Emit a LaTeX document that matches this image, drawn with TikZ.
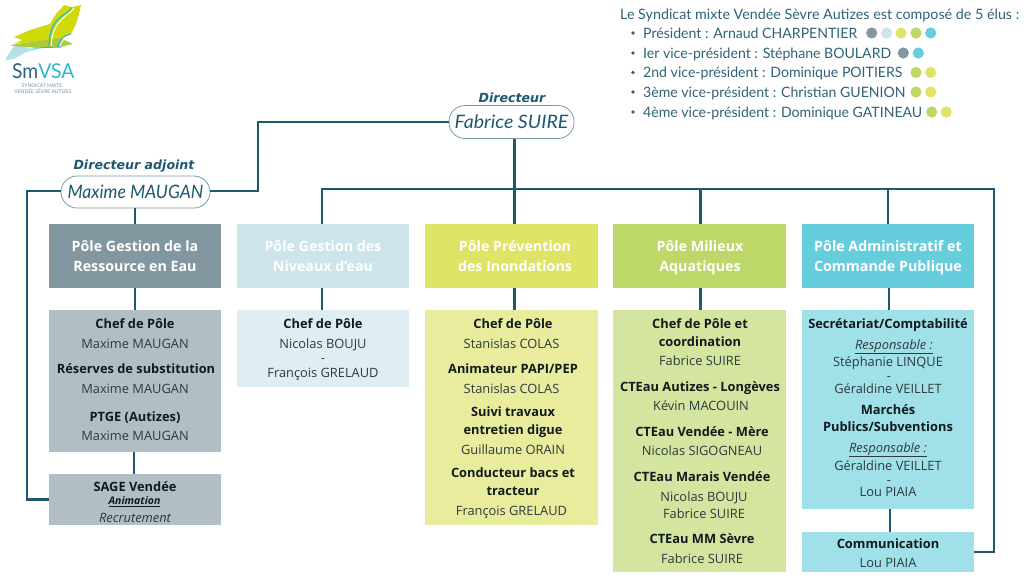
\documentclass[tikz,border=0pt]{standalone}
\usepackage{fontspec}
\usepackage{graphicx}
\setmainfont{Open Sans}
\newfontfamily\headfont{Lato}
\newfontfamily\rolefont{DejaVu Sans}
\usetikzlibrary{calc}
\definecolor{linec}{HTML}{1F5870}
\definecolor{headc}{HTML}{2F6277}
\definecolor{pA}{HTML}{82979F}\definecolor{pB}{HTML}{CDE4EA}\definecolor{pC}{HTML}{DFE366}\definecolor{pD}{HTML}{BDD768}\definecolor{pE}{HTML}{66CDDC}
\definecolor{dA}{HTML}{B1BFC5}\definecolor{dB}{HTML}{DFEEF2}\definecolor{dC}{HTML}{E9EC9D}\definecolor{dD}{HTML}{D4E59F}\definecolor{dE}{HTML}{A0E0E9}
\definecolor{txt}{HTML}{2E3A3D}
\definecolor{bk}{HTML}{111A1C}
\definecolor{lgY}{HTML}{D1D90B}\definecolor{lgG}{HTML}{A9CB3B}\definecolor{lgB}{HTML}{B5E0E8}\definecolor{lgC}{HTML}{2DB8CC}
\newcounter{tn}
\newcommand{\bx}[6]{\node[boxn,fill=#2,minimum width=#5-#3,minimum height=#6-#4] (#1) at ({(#3+#5)/2},{(#4+#6)/2}) {};}
\newcommand{\tl}[4]{\stepcounter{tn}\node[#1] (t\arabic{tn}) at (#2,#3) {#4};}
\tikzset{
 boxn/.style={rectangle,inner sep=0pt,outer sep=0pt,draw=none},
 conn/.style={draw=linec,line width=2.6pt,line join=miter},
 pill/.style={rectangle,rounded corners=16pt,draw=linec!60!white,line width=0.8pt,fill=white,inner sep=0pt,outer sep=0pt,font=\headfont\itshape\fontsize{18.5}{20}\selectfont,text=linec},
 role/.style={anchor=mid,yshift=-2.5pt,inner sep=0pt,font=\rolefont\bfseries\itshape\fontsize{12.6}{15}\selectfont,text=linec},
 ptit/.style={anchor=mid,yshift=-2.5pt,inner sep=0pt,text=white,font=\bfseries\fontsize{14.25}{16}\selectfont},
 hd/.style={anchor=mid,yshift=-2.5pt,inner sep=0pt,text=bk,font=\bfseries\fontsize{12.85}{15}\selectfont},
 nm/.style={anchor=mid,yshift=-2.5pt,inner sep=0pt,text=txt,font=\fontsize{12.85}{15}\selectfont},
 it/.style={anchor=mid,yshift=-2.5pt,inner sep=0pt,text=txt,font=\itshape\fontsize{12.85}{15}\selectfont},
 ht/.style={anchor=mid west,yshift=-2.5pt,inner sep=0pt,text=headc,font=\headfont\fontsize{14.3}{16}\selectfont},
}
\begin{document}
\begin{tikzpicture}[x=1pt,y=-1pt]
\useasboundingbox (0,0) rectangle (1024,576);
% logo
\fill[lgY] (64,5) -- (72,7) -- (81,5) -- (79,14) -- (76,24) -- (71,34) -- (62,38) -- (40,41) -- (14,44) -- (22,40) -- (14,37) -- (30,30) -- (50,24) -- (56,14) -- cycle;
\fill[lgG] (11,45) -- (38,41) -- (60,38) -- (73,44) -- (60,47) -- (30,47) -- (15,47) -- cycle;
\fill[lgB] (5,60) -- (14,46) -- (32,48) -- (24,50) -- (45,47) -- (24,53) -- (14,59) -- cycle;
\draw[white,line width=1pt] (74,8) .. controls (64,20) and (53,20) .. (51,46);
\draw[lgC,line width=1.2pt] (72,8) .. controls (62,18) and (50,18) .. (49,46);
\draw[white,line width=0.8pt] (72,36) .. controls (64,38) and (61,41) .. (60,47);
\draw[lgC,line width=1pt] (71,34) .. controls (62,36) and (59,40) .. (58,47);
\draw[lgC,line width=0.9pt] (32,48) -- (62,47);
\node[anchor=base west,inner sep=0pt,font=\headfont\fontsize{20.5}{22}\selectfont] (logoa) at (12,78) {\scalebox{0.94}[1]{\textcolor{headc}{Sm}\textcolor{lgC}{VSA}}};
\tl{anchor=mid,inner sep=0pt,text=headc!70!white,font=\headfont\fontsize{5}{6}\selectfont}{42}{84.5}{SYNDICAT MIXTE}
\tl{anchor=mid,inner sep=0pt,text=headc!70!white,font=\headfont\fontsize{5}{6}\selectfont}{43}{90.5}{VENDÉE SÈVRE AUTIZES}
% header
\tl{ht}{620}{14}{Le Syndicat mixte Vendée Sèvre Autizes est composé de 5 élus :}
\foreach \yy/\tt in {33/{Président : Arnaud CHARPENTIER},53/{Ier vice-président : Stéphane BOULARD},72.5/{2nd vice-président : Dominique POITIERS},92/{3ème vice-président : Christian GUENION},112/{4ème vice-président : Dominique GATINEAU}}{
 \fill[headc] (633,\yy) circle (1.9);
 \tl{ht}{643}{\yy}{\scalebox{0.985}[1]{\tt}}
}
\foreach \xx/\yy/\cc in {871.7/33/pA,886.7/33/pB,901/33/pC,916/33/pD,930.7/33/pE,903.3/53/pA,918.3/53/pE,916/72.5/pD,930.7/72.5/pC,916/92/pD,930.7/92/pC,931.7/112/pD,946.3/112/pC}
 \fill[\cc] (\xx,\yy) circle (5.6);
% pills
\node[pill,minimum width=149pt,minimum height=32pt] (maxime) at (135.5,192) {\scalebox{0.951}[1]{Maxime MAUGAN}};
\node[pill,minimum width=125pt,minimum height=33pt] (fabrice) at (511.5,122) {\scalebox{1.056}[1]{Fabrice SUIRE}};
\tl{role}{134}{164}{Directeur adjoint}
\tl{role}{512}{97}{Directeur}
% boxes
\bx{p1}{pA}{49}{224}{221}{288}
\bx{p2}{pB}{237}{224}{409}{288}
\bx{p3}{pC}{425}{224}{598}{288}
\bx{p4}{pD}{613}{224}{786}{288}
\bx{p5}{pE}{802}{224}{974}{288}
\bx{d1}{dA}{49}{310}{221}{452}
\bx{d2}{dB}{237}{310}{409}{387}
\bx{d3}{dC}{425}{310}{598}{525}
\bx{d4}{dD}{613}{310}{786}{572}
\bx{d5}{dE}{802}{310}{974}{509}
\bx{sage}{dA}{49}{474}{221}{525}
\bx{com}{dE}{802}{532}{974}{572}
% connectors
\coordinate (b1) at (135,189);
\coordinate (b2) at (322,189);
\coordinate (b3) at (514.5,189);
\coordinate (b4) at (700.5,189);
\coordinate (b5) at (888,189);
\coordinate (br) at (994,189);
\coordinate (jm) at (258,191);
\coordinate (lf) at (27,191);
\begin{scope}[conn]
\draw (maxime.east |- jm) -- (jm) -- (jm |- fabrice.west) -- (fabrice.west);
\draw (maxime.west |- lf) -- (lf) -- (lf |- sage.west) -- (sage.west);
\draw (b3 |- fabrice.south) -- (b3 |- p3.north);
\draw (b2 |- p2.north) -- (b2) -- (br) -- (br |- com.east) -- (com.east);
\draw (b4) -- (b4 |- p4.north);
\draw (b5) -- (b5 |- p5.north);
\draw (b1 |- maxime.south) -- (b1 |- p1.north);
\draw (b1 |- p1.south) -- (b1 |- d1.north);
\draw (134,0 |- d1.south) -- (134,0 |- sage.north);
\draw (b2 |- p2.south) -- (b2 |- d2.north);
\draw (b3 |- p3.south) -- (b3 |- d3.north);
\draw (b4 |- p4.south) -- (b4 |- d4.north);
\draw (889,0 |- p5.south) -- (889,0 |- d5.north);
\draw (890,0 |- d5.south) -- (890,0 |- com.north);
\end{scope}
% pole titles
\tl{ptit}{135}{246}{Pôle Gestion de la}
\tl{ptit}{135}{266}{Ressource en Eau}
\tl{ptit}{323}{246}{Pôle Gestion des}
\tl{ptit}{323}{266}{Niveaux d'eau}
\tl{ptit}{515}{246}{Pôle Prévention}
\tl{ptit}{515}{266}{des Inondations}
\tl{ptit}{700}{246}{Pôle Milieux}
\tl{ptit}{700}{266}{Aquatiques}
\tl{ptit}{888}{246}{Pôle Administratif et}
\tl{ptit}{888}{266}{Commande Publique}
% col 1
\tl{hd}{135}{323}{Chef de Pôle}
\tl{nm}{135}{343}{Maxime MAUGAN}
\tl{hd}{136}{368}{Réserves de substitution}
\tl{nm}{135}{388}{Maxime MAUGAN}
\tl{hd}{135}{416}{PTGE (Autizes)}
\tl{nm}{135}{435}{Maxime MAUGAN}
\tl{hd}{135}{486}{SAGE Vendée}
\tl{anchor=mid,yshift=-2pt,inner sep=0pt,text=bk,font=\bfseries\itshape\fontsize{10.5}{12}\selectfont}{134.5}{500}{\underline{Animation}}
\tl{it}{135}{517}{Recrutement}
% col 2
\tl{hd}{323}{323}{Chef de Pôle}
\tl{nm}{323}{343}{Nicolas BOUJU}
\tl{nm}{323}{357}{-}
\tl{nm}{323}{372}{François GRELAUD}
% col 3
\tl{hd}{513}{323}{Chef de Pôle}
\tl{nm}{511.5}{343}{Stanislas COLAS}
\tl{hd}{513}{368}{Animateur PAPI/PEP}
\tl{nm}{511.5}{388}{Stanislas COLAS}
\tl{hd}{513}{411}{Suivi travaux}
\tl{hd}{513}{429}{entretien digue}
\tl{nm}{513}{449}{Guillaume ORAIN}
\tl{hd}{513}{472}{Conducteur bacs et}
\tl{hd}{513}{490}{tracteur}
\tl{nm}{511.5}{510}{François GRELAUD}
% col 4
\tl{hd}{700}{323}{Chef de Pôle et}
\tl{hd}{700}{341}{coordination}
\tl{nm}{700}{360}{Fabrice SUIRE}
\tl{hd}{700}{386}{CTEau Autizes - Longèves}
\tl{nm}{701}{405}{Kévin MACOUIN}
\tl{hd}{702}{431}{CTEau Vendée - Mère}
\tl{nm}{702}{450}{Nicolas SIGOGNEAU}
\tl{hd}{702}{476}{CTEau Marais Vendée}
\tl{nm}{704}{496}{Nicolas BOUJU}
\tl{nm}{704}{513}{Fabrice SUIRE}
\tl{hd}{702}{538}{CTEau MM Sèvre}
\tl{nm}{702}{558}{Fabrice SUIRE}
% col 5
\tl{hd}{888}{323}{Secrétariat/Comptabilité}
\tl{it}{894}{344}{\underline{Responsable :}}
\tl{nm}{888}{361.5}{Stéphanie LINQUE}
\tl{nm}{889}{375}{-}
\tl{nm}{888}{388}{Géraldine VEILLET}
\tl{hd}{888}{409}{Marchés}
\tl{hd}{888}{426.5}{Publics/Subventions}
\tl{it}{888}{447}{\underline{Responsable :}}
\tl{nm}{888}{465}{Géraldine VEILLET}
\tl{nm}{889}{479}{-}
\tl{nm}{888}{491}{Lou PIAIA}
\tl{hd}{888}{543}{Communication}
\tl{nm}{888}{562}{Lou PIAIA}
\end{tikzpicture}
\end{document}
